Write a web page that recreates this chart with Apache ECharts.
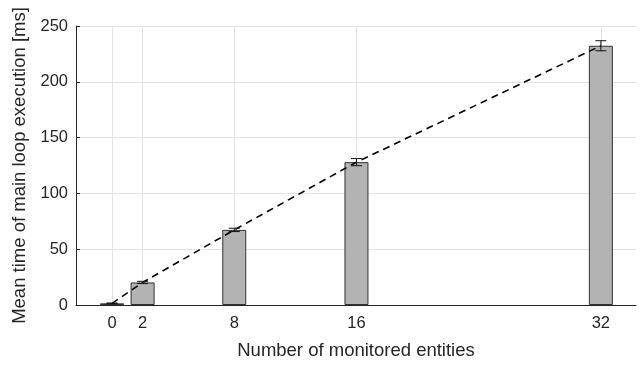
<!DOCTYPE html>
<html>
<head>
<meta charset="utf-8">
<script src="https://cdn.jsdelivr.net/npm/echarts@6/dist/echarts.min.js"></script>
<style>html,body{margin:0;padding:0;background:#fff}#c{width:641px;height:365px}</style>
</head>
<body>
<div id="c"></div>
<script>
const entities = [0, 2, 8, 16, 32];
const meanTimes = [1.5, 20.2, 67.3, 128.0, 232.3];
const errors = [0.3, 1.0, 1.5, 3.2, 4.5];
const yTicks = [0, 50, 100, 150, 200, 250];

const chart = echarts.init(document.getElementById('c'), null, {renderer: 'canvas'});
const font = 'Liberation Sans, Arial, Helvetica, sans-serif';
const txt = '#262626';

chart.setOption({
  animation: false,
  grid: {left: 76, right: 5, top: 26, bottom: 58},
  xAxis: {
    type: 'value', min: -2.36, max: 34.3,
    name: 'Number of monitored entities', nameLocation: 'middle', nameGap: 36,
    nameTextStyle: {fontFamily: font, fontSize: 18.5, color: txt},
    axisLine: {show: true, onZero: false, lineStyle: {color: txt, width: 1}},
    axisTick: {show: false},
    splitLine: {show: false},
    axisLabel: {customValues: entities, fontFamily: font, fontSize: 16.5, color: txt, margin: 10}
  },
  yAxis: {
    type: 'value', min: 0, max: 250, interval: 50,
    name: 'Mean time of main loop execution [ms]', nameLocation: 'middle', nameGap: 43,
    nameTextStyle: {fontFamily: font, fontSize: 18.5, color: txt},
    axisLine: {show: true, onZero: false, lineStyle: {color: txt, width: 1}},
    axisTick: {show: true, inside: true, length: 4, lineStyle: {color: txt}},
    splitLine: {show: true, lineStyle: {color: '#e3e3e3', width: 1}},
    axisLabel: {fontFamily: font, fontSize: 16.5, color: txt, margin: 8,
      formatter: v => yTicks.includes(v) ? String(v) : ''}
  },
  series: [
    {
      type: 'line', data: [], silent: true, z: 0,
      markLine: {
        symbol: 'none', silent: true, label: {show: false}, z: 0,
        lineStyle: {color: '#e3e3e3', width: 1, type: 'solid'},
        data: entities.map(e => ({xAxis: e}))
      }
    },
    {
      type: 'bar', barWidth: 24, z: 3,
      data: entities.map((e, i) => [e, meanTimes[i]]),
      itemStyle: {color: '#b3b3b3', borderColor: '#333', borderWidth: 1}
    },
    {
      type: 'line', symbol: 'none',
      data: entities.map((e, i) => [e, meanTimes[i]]),
      lineStyle: {color: '#000', width: 1.6, type: [7, 5]},
      z: 5
    },
    {
      type: 'custom', z: 6,
      data: entities.map((e, i) => [e, meanTimes[i] - errors[i], meanTimes[i] + errors[i]]),
      renderItem: function (params, api) {
        const x = api.value(0);
        const lo = api.coord([x, api.value(1)]);
        const hi = api.coord([x, api.value(2)]);
        const hw = 5.5;
        const st = {stroke: '#111', lineWidth: 1};
        return {type: 'group', children: [
          {type: 'line', shape: {x1: lo[0], y1: lo[1], x2: hi[0], y2: hi[1]}, style: st},
          {type: 'line', shape: {x1: lo[0]-hw, y1: lo[1], x2: lo[0]+hw, y2: lo[1]}, style: st},
          {type: 'line', shape: {x1: hi[0]-hw, y1: hi[1], x2: hi[0]+hw, y2: hi[1]}, style: st}
        ]};
      }
    }
  ]
});
</script>
</body>
</html>
